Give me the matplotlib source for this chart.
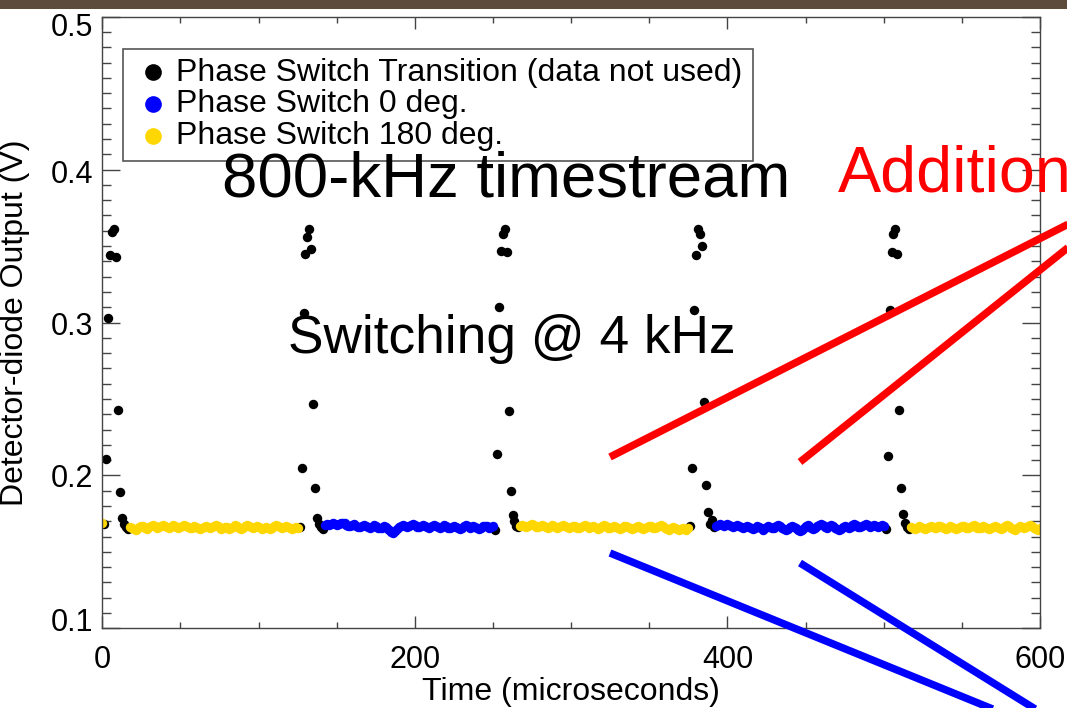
import numpy as np
import matplotlib.pyplot as plt
from matplotlib.lines import Line2D
from matplotlib.patches import Rectangle
from matplotlib.ticker import MultipleLocator
from matplotlib.transforms import ScaledTranslation

plt.rcParams['font.family'] = ['Liberation Sans', 'DejaVu Sans']

# 800 kHz sampling -> 1.25 us per sample
dt_us = 1.25

# phase-switch transitions: sample index of the sample just before each switch,
# followed by 13 samples that are flagged as transition (volts)
trans_start = [1, 101, 201, 301, 401]
trans_1 = [0.168, 0.211, 0.303, 0.344, 0.359, 0.361, 0.343, 0.243, 0.189, 0.172, 0.168, 0.166, 0.165]
trans_2 = [0.166, 0.205, 0.306, 0.345, 0.356, 0.361, 0.348, 0.247, 0.192, 0.172, 0.168, 0.166, 0.165]
trans_3 = [0.164, 0.214, 0.310, 0.347, 0.358, 0.361, 0.346, 0.242, 0.190, 0.174, 0.170, 0.167, 0.166]
trans_4 = [0.167, 0.205, 0.308, 0.344, 0.361, 0.358, 0.350, 0.248, 0.194, 0.176, 0.168, 0.171, 0.166]
trans_5 = [0.165, 0.213, 0.308, 0.346, 0.358, 0.361, 0.345, 0.243, 0.192, 0.175, 0.169, 0.166, 0.165]

# steady-state samples (mV), first sample index of each block
first_sample_mv = 169.0
seg_start = [14, 114, 214, 314, 414]
ps180_a = [166.5, 165.8, 164.9, 164.3, 165.2, 166.4, 167.1, 166.6, 165.7, 165.2,
           166.0, 167.0, 167.4, 166.7, 165.9, 166.3, 167.2, 167.6, 166.8, 166.0,
           165.6, 166.4, 167.3, 167.0, 166.1, 165.5, 166.0, 166.9, 167.5, 167.1,
           166.2, 165.6, 165.9, 166.8, 166.4, 165.5, 164.9, 165.4, 166.3, 167.0,
           166.5, 165.7, 166.1, 167.0, 167.6, 166.9, 165.9, 165.2, 165.6, 166.5,
           166.0, 165.1, 165.5, 166.5, 167.3, 166.6, 165.7, 165.0, 165.7, 166.7,
           167.7, 167.0, 166.1, 165.5, 166.2, 167.1, 166.4, 165.3, 164.8, 165.5,
           166.4, 165.9, 165.1, 165.8, 166.9, 167.8, 167.1, 166.1, 165.4, 166.0,
           166.8, 166.2, 165.5, 165.1, 165.7, 166.3, 165.6]
ps0_a = [167.5, 168.0, 167.6, 168.2, 168.8, 168.3, 167.7, 167.9, 168.6, 169.1,
         168.7, 167.8, 167.0, 166.6, 167.3, 167.9, 167.2, 166.5, 166.0, 166.8,
         167.6, 167.0, 166.2, 165.7, 166.4, 167.3, 166.8, 165.9, 165.3, 165.9,
         166.7, 166.1, 165.2, 164.3, 163.2, 162.6, 163.5, 164.8, 166.0, 166.9,
         167.5, 167.1, 166.3, 166.8, 167.6, 168.0, 167.3, 166.5, 166.0, 166.7,
         167.4, 166.9, 166.0, 165.6, 166.3, 167.2, 167.8, 167.2, 166.4, 165.8,
         166.5, 167.3, 166.7, 165.9, 165.4, 166.2, 167.0, 166.4, 165.7, 165.2,
         165.9, 166.8, 167.3, 166.6, 165.8, 166.3, 167.1, 166.5, 165.6, 165.1,
         165.8, 166.7, 167.2, 166.6, 165.9, 166.3, 166.8]
ps180_b = [166.8, 167.4, 167.0, 166.2, 166.7, 167.6, 168.0, 167.3, 166.5, 166.1,
           166.8, 167.5, 167.0, 166.2, 165.8, 166.5, 167.3, 166.9, 166.0, 165.6,
           166.3, 167.2, 167.7, 167.1, 166.2, 165.7, 166.4, 167.2, 166.7, 165.8,
           165.4, 166.1, 167.0, 167.4, 166.6, 165.9, 166.3, 167.1, 166.5, 165.6,
           165.2, 165.9, 166.8, 167.3, 166.7, 165.8, 165.3, 166.0, 166.9, 166.4,
           165.5, 165.1, 165.8, 166.6, 167.2, 166.5, 165.7, 165.0, 165.6, 166.5,
           167.0, 166.3, 165.4, 164.8, 165.5, 166.4, 167.1, 166.6, 165.8, 165.3,
           166.0, 166.9, 167.5, 166.8, 165.9, 165.2, 164.6, 165.3, 166.2, 165.5,
           164.7, 164.2, 165.0, 165.9, 165.1, 164.5, 165.4]
ps0_b = [167.0, 167.6, 168.1, 167.5, 166.8, 167.3, 168.0, 167.6, 166.9, 166.4,
         167.0, 167.5, 166.9, 166.2, 165.7, 166.4, 167.1, 166.5, 165.6, 165.2,
         165.9, 166.7, 166.2, 165.3, 164.6, 165.3, 166.3, 166.9, 166.3, 165.5,
         165.9, 166.9, 167.6, 166.8, 165.7, 164.8, 164.1, 164.9, 166.0, 166.8,
         166.2, 165.3, 164.4, 163.6, 164.5, 165.7, 166.6, 167.3, 166.7, 165.8,
         165.2, 165.9, 166.9, 167.8, 168.2, 167.4, 166.5, 165.9, 166.6, 167.4,
         166.8, 165.8, 165.0, 164.3, 165.1, 166.2, 167.0, 166.4, 165.6, 166.3,
         167.3, 168.0, 167.4, 166.5, 166.0, 166.8, 167.6, 168.1, 167.3, 166.4,
         166.9, 167.6, 167.1, 166.3, 166.8, 167.4, 166.7]
ps180_c = [166.4, 165.8, 165.2, 165.9, 166.6, 166.1, 165.4, 164.9, 165.6, 166.4,
           166.9, 166.3, 165.5, 165.8, 166.6, 167.1, 166.5, 165.7, 165.2, 165.9,
           166.7, 166.2, 165.4, 165.0, 165.7, 166.5, 167.2, 166.8, 165.9, 165.4,
           166.1, 166.9, 167.4, 166.7, 165.8, 165.3, 165.9, 166.8, 166.3, 165.5,
           165.0, 165.6, 166.5, 167.0, 166.4, 165.6, 165.1, 165.8, 166.7, 167.3,
           166.6, 165.7, 165.0, 164.5, 165.3, 166.3, 166.9, 166.2, 165.4, 166.0,
           166.9, 167.5, 166.7, 165.8, 165.2, 164.6, 165.3]

yticks = [0.1, 0.2, 0.3, 0.4, 0.5]
xticks = [0, 200, 400, 600]
legend_labels = ['Phase Switch Transition (data not used)',
                 'Phase Switch 0 deg.',
                 'Phase Switch 180 deg.']
c_trans, c_ps0, c_ps180 = 'black', '#0000ff', '#ffd700'

W, H = 1067, 708


def fx(px):
    return px / W


def fy(py):
    return 1 - py / H


fig = plt.figure(figsize=(W / 100, H / 100), dpi=100)
fig.patch.set_facecolor('white')

ax = fig.add_axes([fx(102.3), fy(628.3), (1040 - 102.3) / W, (628.3 - 16.7) / H])

ms = 6.8
for s, vals in zip(trans_start, [trans_1, trans_2, trans_3, trans_4, trans_5]):
    t = (s + np.arange(len(vals))) * dt_us
    ax.plot(t, vals, 'o', color=c_trans, ms=ms, mew=0)

segments = [ps180_a, ps0_a, ps180_b, ps0_b, ps180_c]
colors = [c_ps180, c_ps0, c_ps180, c_ps0, c_ps180]
ax.plot([0.0], [first_sample_mv / 1000], 'o', color=c_ps180, ms=ms, mew=0)
for s, vals, c in zip(seg_start, segments, colors):
    t = (s + np.arange(len(vals))) * dt_us
    ax.plot(t, np.array(vals) / 1000, 'o', color=c, ms=ms, mew=0)

ax.set_xlim(0, 600)
ax.set_ylim(0.1, 0.5)
ax.set_xticks(xticks)
ax.set_yticks(yticks)
ax.xaxis.set_minor_locator(MultipleLocator(50))
ax.yaxis.set_minor_locator(MultipleLocator(0.01))
ax.set_xticklabels([f'{v:.0f}' for v in xticks])
ax.set_yticklabels([f'{v:.1f}' for v in yticks])

axis_gray = '#444444'
for sp in ax.spines.values():
    sp.set_color(axis_gray)
    sp.set_linewidth(1.0)
ax.tick_params(which='both', direction='in', top=True, right=True,
               color=axis_gray, width=1.0, labelsize=22, labelcolor='black')
ax.tick_params(axis='x', which='major', length=8.8, pad=12)
ax.tick_params(axis='x', which='minor', length=4.4)
ax.tick_params(axis='y', which='major', length=13, pad=6.7)
ax.tick_params(axis='y', which='minor', length=6.5)

# y labels sit slightly squeezed toward the middle of the axis
label_shift_px = [-9, 0, 1, 2, 8]
for tick, dy in zip(ax.yaxis.get_major_ticks(), label_shift_px):
    tick.label1.set_transform(tick.label1.get_transform() +
                              ScaledTranslation(0, -dy / 100, fig.dpi_scale_trans))

ax.set_xlabel('Time (microseconds)', fontsize=23)
ax.set_ylabel('Detector-diode Output (V)', fontsize=23)
ax.xaxis.set_label_coords(0.5, -0.080)
ax.yaxis.set_label_coords(-0.077, 0.5)

# legend box drawn by hand
fig.add_artist(Rectangle((fx(123.3), fy(161)), (753.3 - 123.3) / W, (161 - 49.3) / H,
                         transform=fig.transFigure, fill=False,
                         edgecolor='#555555', lw=1.2))
for row_y, dot_y, lab, c in zip([81, 112.3, 144], [72, 104, 136], legend_labels,
                                [c_trans, c_ps0, c_ps180]):
    fig.add_artist(Line2D([fx(153.3)], [fy(dot_y)], marker='o', ms=12,
                          color=c, mew=0, transform=fig.transFigure))
    fig.text(fx(175.7), fy(row_y), lab, fontsize=23, va='baseline', ha='left')

# slide annotations
fig.text(fx(221.7), fy(196.7), '800-kHz timestream', fontsize=45.7,
         va='baseline', ha='left')
fig.text(fx(287.7), fy(353.3), 'Switching @ 4 kHz', fontsize=38.3,
         va='baseline', ha='left')
fig.text(fx(838.3), fy(191.7), 'Addition', fontsize=46.5, color='#ff0000',
         va='baseline', ha='left')

pointer_lines = [
    ((610, 457), (1100, 208), '#ff0000'),
    ((800, 462), (1100, 222), '#ff0000'),
    ((610, 553), (1000, 712), '#0000ff'),
    ((800, 563), (1040, 712), '#0000ff'),
]
for (x0, y0), (x1, y1), c in pointer_lines:
    fig.add_artist(Line2D([fx(x0), fx(x1)], [fy(y0), fy(y1)], color=c, lw=5.4,
                          solid_capstyle='butt', transform=fig.transFigure))

# dark band across the top of the slide
fig.add_artist(Rectangle((0, fy(9.3)), 1, 9.3 / H, transform=fig.transFigure,
                         color='#5d4c3b', lw=0))

fig.savefig('out.png', dpi=100)
